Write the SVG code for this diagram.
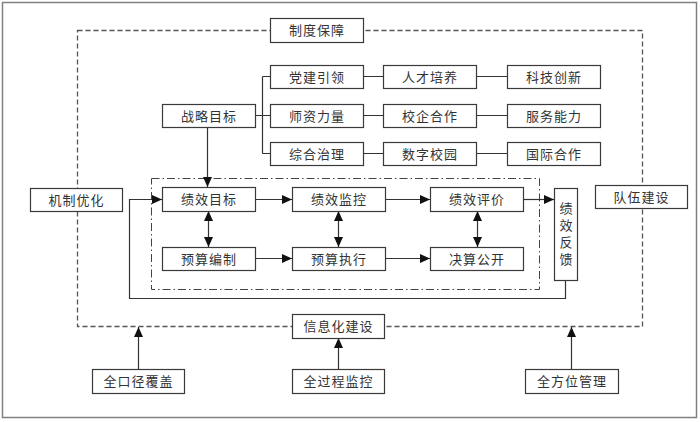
<svg xmlns="http://www.w3.org/2000/svg" width="700" height="422" viewBox="0 0 700 422">
<style>
.box{fill:#fff;stroke:#3a3a3a;stroke-width:1.2}
.t{font-family:"Noto Sans CJK SC","Noto Sans",sans-serif;font-size:13px;fill:#333;text-anchor:middle;letter-spacing:1px}
.v{font-family:"Noto Sans CJK SC","Noto Sans",sans-serif;font-size:13px;fill:#333;text-anchor:middle;letter-spacing:4px;writing-mode:vertical-rl}
.ln{fill:none;stroke:#333;stroke-width:1.2}
.ar{fill:none;stroke:#333;stroke-width:1.2;marker-end:url(#ah)}
.bi{fill:none;stroke:#333;stroke-width:1.2;marker-end:url(#ah);marker-start:url(#ah)}
</style>
<defs>
<marker id="ah" markerUnits="userSpaceOnUse" markerWidth="10" markerHeight="9" refX="10" refY="4.5" orient="auto-start-reverse" viewBox="0 0 10 9">
<path d="M0,0 L10,4.5 L0,9 z" fill="#111"/>
</marker>
</defs>
<rect x="0" y="0" width="700" height="422" fill="#fff"/>
<rect x="2.5" y="2.5" width="694" height="415" fill="none" stroke="#808080" stroke-width="1.5"/>
<rect x="77.5" y="30.5" width="565" height="296" fill="none" stroke="#555" stroke-width="1.3" stroke-dasharray="5,3"/>
<rect x="151.5" y="178.5" width="388" height="111" fill="none" stroke="#444" stroke-width="1" stroke-dasharray="8,3,1.5,3"/>
<g id="connectors">
<path class="ln" d="M255,115.5 H262.5 M262.5,76.5 V153.5 M262.5,76.5 H270 M262.5,115.5 H270 M262.5,153.5 H270"/>
<path class="ln" d="M363,76.5 H383 M477,76.5 H507 M363,115.5 H383 M477,115.5 H507 M363,153.5 H383 M477,153.5 H507"/>
<path class="ar" d="M207.5,127 V187"/>
<path class="ar" d="M255,199.5 H292"/>
<path class="ar" d="M385,199.5 H430"/>
<path class="ar" d="M523,199.5 H554"/>
<path class="ar" d="M255,258.5 H292"/>
<path class="ar" d="M385,258.5 H430"/>
<path class="bi" d="M208.5,211 V247"/>
<path class="bi" d="M338.5,211 V247"/>
<path class="bi" d="M477.5,211 V247"/>
<path class="ar" d="M565.5,280 V298.5 H129.5 V199.5 H162"/>
<path class="ar" d="M138.5,369 V327"/>
<path class="ar" d="M338.5,369 V338"/>
<path class="ar" d="M571.5,369 V327"/>
</g>
<g id="n-zhidu"><rect class="box" x="270.5" y="18.5" width="93" height="24"/><text class="t" x="317" y="35">制度保障</text></g>
<g id="n-dangjian"><rect class="box" x="270.5" y="65.5" width="93" height="23"/><text class="t" x="317" y="81.5">党建引领</text></g>
<g id="n-rencai"><rect class="box" x="383.5" y="65.5" width="93" height="23"/><text class="t" x="430" y="81.5">人才培养</text></g>
<g id="n-keji"><rect class="box" x="507.5" y="65.5" width="93" height="23"/><text class="t" x="554" y="81.5">科技创新</text></g>
<g id="n-zhanlue"><rect class="box" x="162.5" y="104.5" width="93" height="23"/><text class="t" x="209" y="120.5">战略目标</text></g>
<g id="n-shizi"><rect class="box" x="270.5" y="104.5" width="93" height="23"/><text class="t" x="317" y="120.5">师资力量</text></g>
<g id="n-xiaoqi"><rect class="box" x="383.5" y="104.5" width="93" height="23"/><text class="t" x="430" y="120.5">校企合作</text></g>
<g id="n-fuwu"><rect class="box" x="507.5" y="104.5" width="93" height="23"/><text class="t" x="554" y="120.5">服务能力</text></g>
<g id="n-zonghe"><rect class="box" x="270.5" y="142.5" width="93" height="23"/><text class="t" x="317" y="158.5">综合治理</text></g>
<g id="n-shuzi"><rect class="box" x="383.5" y="142.5" width="93" height="23"/><text class="t" x="430" y="158.5">数字校园</text></g>
<g id="n-guoji"><rect class="box" x="507.5" y="142.5" width="93" height="23"/><text class="t" x="554" y="158.5">国际合作</text></g>
<g id="n-jizhi"><rect class="box" x="30.5" y="188.5" width="92" height="23"/><text class="t" x="76.5" y="204.5">机制优化</text></g>
<g id="n-jxmb"><rect class="box" x="162.5" y="187.5" width="93" height="24"/><text class="t" x="209" y="204">绩效目标</text></g>
<g id="n-jxjk"><rect class="box" x="292.5" y="187.5" width="93" height="24"/><text class="t" x="339" y="204">绩效监控</text></g>
<g id="n-jxpj"><rect class="box" x="430.5" y="187.5" width="93" height="24"/><text class="t" x="477" y="204">绩效评价</text></g>
<g id="n-duiwu"><rect class="box" x="595.5" y="185.5" width="92" height="23"/><text class="t" x="641.5" y="201.5">队伍建设</text></g>
<g id="n-ysbz"><rect class="box" x="162.5" y="247.5" width="93" height="23"/><text class="t" x="209" y="263.5">预算编制</text></g>
<g id="n-yszx"><rect class="box" x="292.5" y="247.5" width="93" height="23"/><text class="t" x="339" y="263.5">预算执行</text></g>
<g id="n-jsgk"><rect class="box" x="430.5" y="247.5" width="93" height="23"/><text class="t" x="477" y="263.5">决算公开</text></g>
<g id="n-jxfk"><rect class="box" x="554.5" y="188.5" width="23" height="92"/><text class="v" x="566" y="236">绩效反馈</text></g>
<g id="n-xinxi"><rect class="box" x="292.5" y="314.5" width="92" height="24"/><text class="t" x="338.5" y="331">信息化建设</text></g>
<g id="n-quankou"><rect class="box" x="92.5" y="369.5" width="92" height="24"/><text class="t" x="138.5" y="386">全口径覆盖</text></g>
<g id="n-quanguo"><rect class="box" x="292.5" y="369.5" width="92" height="24"/><text class="t" x="338.5" y="386">全过程监控</text></g>
<g id="n-quanfang"><rect class="box" x="525.5" y="369.5" width="93" height="24"/><text class="t" x="572" y="386">全方位管理</text></g>
</svg>
